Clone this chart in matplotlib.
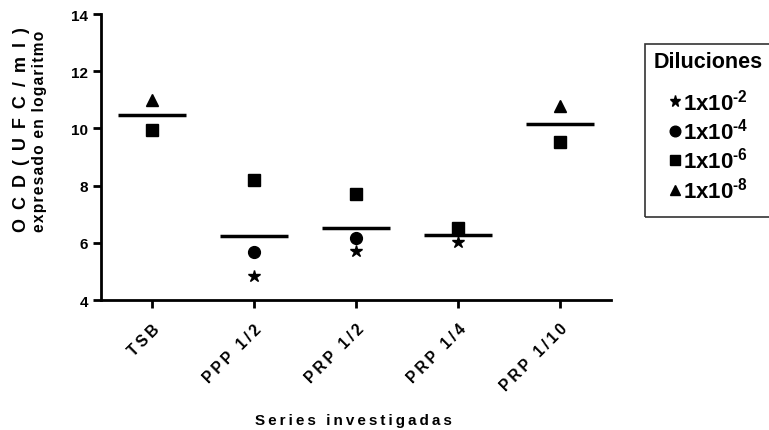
import matplotlib
matplotlib.use('Agg')
import matplotlib.pyplot as plt
from matplotlib.patches import Rectangle
from matplotlib.transforms import ScaledTranslation
import numpy as np

plt.rcParams['font.family'] = ['Liberation Sans', 'DejaVu Sans']
plt.rcParams['font.weight'] = 'bold'
plt.rcParams['mathtext.fontset'] = 'custom'
plt.rcParams['mathtext.rm'] = 'Liberation Sans:bold'
plt.rcParams['mathtext.bf'] = 'Liberation Sans:bold'

series = ['TSB', 'PPP 1/2', 'PRP 1/2', 'PRP 1/4', 'PRP 1/10']
# values per dilution (None = not measured)
dil_2 = [None, 4.85, 5.72, 6.02, None]
dil_4 = [None, 5.69, 6.17, None, None]
dil_6 = [9.94, 8.20, 7.71, 6.53, 9.51]
dil_8 = [11.0, None, None, None, 10.77]

dil_labels = [r'1x10$^{\text{-2}}$', r'1x10$^{\text{-4}}$',
              r'1x10$^{\text{-6}}$', r'1x10$^{\text{-8}}$']
markers = ['*', 'o', 's', '^']
sizes = [9, 8.5, 8.5, 8.5]


def spaced(s, sep='\u2009'):
    return sep.join(s)


fig = plt.figure(figsize=(7.69, 4.31), dpi=100)
ax = fig.add_axes([0.1313, 0.3016, 0.6632, 0.6634])

x = np.arange(len(series))
all_series = [dil_2, dil_4, dil_6, dil_8]
for vals, m, ms, lab in zip(all_series, markers, sizes, dil_labels):
    xs = [i for i, v in enumerate(vals) if v is not None]
    ys = [v for v in vals if v is not None]
    ax.plot(xs, ys, linestyle='none', marker=m, markersize=ms, color='black', label=lab)

# mean line per series
for i in range(len(series)):
    vals = [s[i] for s in all_series if s[i] is not None]
    ax.hlines(np.mean(vals), i - 0.33, i + 0.33, color='black', linewidth=2.5)

ax.set_xlim(-0.5, 4.5)
ax.set_ylim(4, 14)
ax.set_yticks([4, 6, 8, 10, 12, 14])
ax.set_xticks(x)
ax.set_xticklabels([spaced(s) for s in series], rotation=45, ha='right',
                   rotation_mode='anchor', fontsize=11.2, fontweight='bold')
shift = ScaledTranslation(-7 / 100, 0, fig.dpi_scale_trans)
for t in ax.get_xticklabels():
    t.set_transform(t.get_transform() + shift)
for t in ax.get_yticklabels():
    t.set_fontsize(11)
    t.set_fontweight('bold')
ax.spines['top'].set_visible(False)
ax.spines['right'].set_visible(False)
ax.spines['left'].set_linewidth(2)
ax.spines['bottom'].set_linewidth(2)
ax.tick_params(width=2, length=6)
ax.tick_params(axis='x', pad=9)

fig.text(353 / 769, 1 - 421 / 431, spaced('Series investigadas'), fontsize=11,
         fontweight='bold', ha='center', va='center')
fig.text(22 / 769, 1 - 130 / 431, spaced('OCD(UFC/ml)', '\u2002'), fontsize=13,
         fontweight='bold', rotation=90, ha='center', va='center')
fig.text(40 / 769, 1 - 131 / 431, spaced('expresado en logaritmo', '\u200a'), fontsize=11.2,
         fontweight='bold', rotation=90, ha='center', va='center')

# legend box, runs off the right edge as in the original
fig.patches.append(Rectangle((645 / 769, 1 - 218 / 431), 0.2, 173 / 431,
                             transform=fig.transFigure, fill=False,
                             edgecolor='#333333', linewidth=1.2, figure=fig))
fig.text(708 / 769, 1 - 62 / 431, 'Diluciones', fontsize=15.5, fontweight='bold',
         ha='center', va='center')
leg = fig.legend(loc='upper left', bbox_to_anchor=(657 / 769, 1 - 78 / 431), frameon=False,
                 fontsize=16, handletextpad=0.05, handlelength=0.6,
                 labelspacing=0.16, borderpad=0, markerscale=0.9)

fig.savefig('out.png', dpi=100)
